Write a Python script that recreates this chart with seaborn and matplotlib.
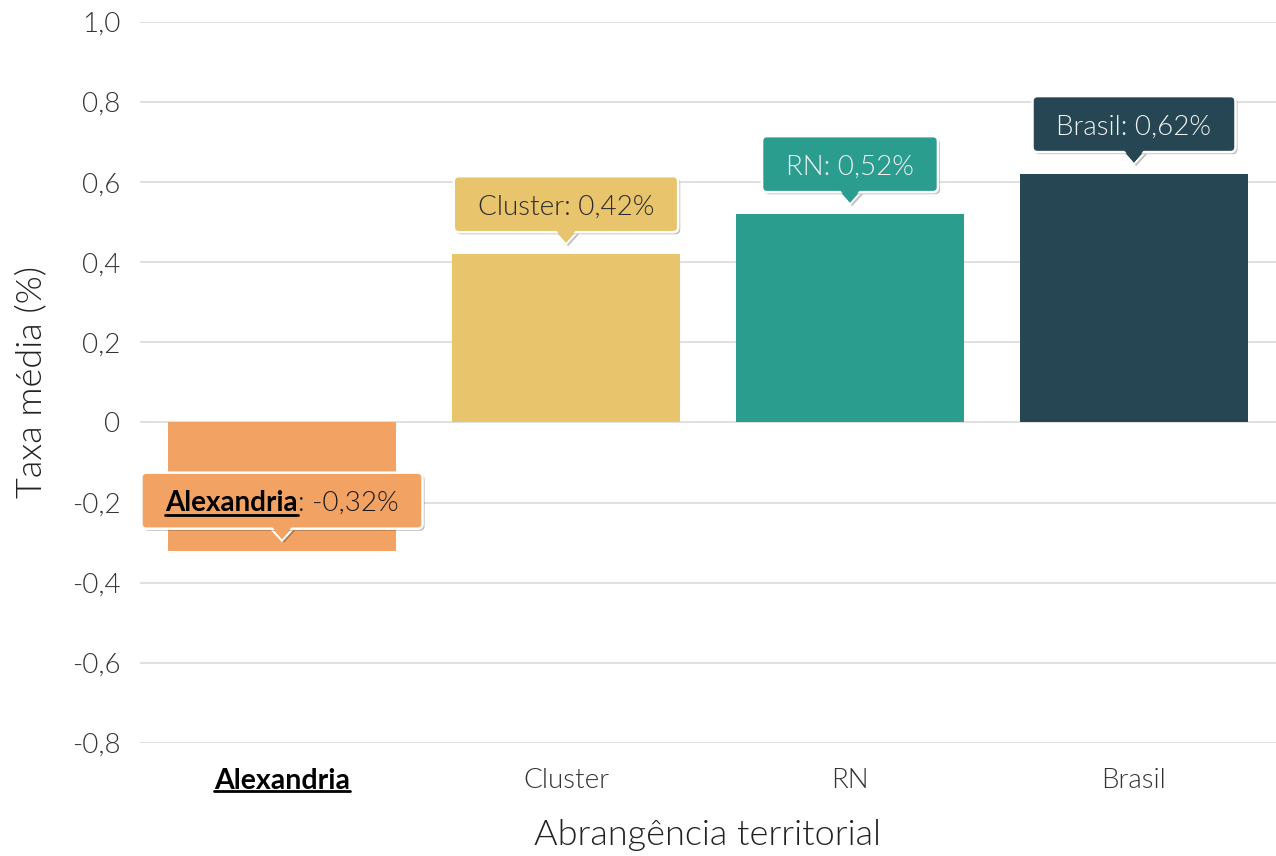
import matplotlib
matplotlib.use("Agg")
import pandas as pd
import matplotlib.pyplot as plt
import matplotlib.patheffects as pe
import seaborn as sns
from matplotlib.patches import FancyBboxPatch, Polygon
from matplotlib.lines import Line2D
from matplotlib.transforms import IdentityTransform

# data
regioes = ["Alexandria", "Cluster", "RN", "Brasil"]
taxas = [-0.32, 0.42, 0.52, 0.62]
rotulos = ["-0,32%", "0,42%", "0,52%", "0,62%"]
cores = ["#F2A363", "#E8C46D", "#2A9D8F", "#264653"]
cor_texto = ["#1a1a1a", "#2b2b2b", "#f2f2f2", "#f2f2f2"]
yticks = [-0.8, -0.6, -0.4, -0.2, 0, 0.2, 0.4, 0.6, 0.8, 1.0]
ytick_labels = ["-0,8", "-0,6", "-0,4", "-0,2", "0", "0,2", "0,4", "0,6", "0,8", "1,0"]

LEVE = 300  # Lato Light
FS = 20

sns.set_theme(style="white")
plt.rcParams["font.family"] = ["Lato", "DejaVu Sans"]

fig = plt.figure(figsize=(12.76, 8.56), dpi=100)
ax = fig.add_axes([0.1097, 0.132, 0.8903, 0.8425])

df = pd.DataFrame({"regiao": regioes, "taxa": taxas})
sns.barplot(data=df, x="regiao", y="taxa", hue="regiao", palette=cores,
            legend=False, width=0.8, saturation=1, ax=ax, zorder=2,
            linewidth=0)

ax.set_ylim(-0.8, 1.0)
ax.set_xlim(-0.5, 3.5)
ax.set_yticks(yticks)
ax.set_yticklabels(ytick_labels)
for y in yticks:
    ax.axhline(y, color="#DDDDDD", lw=1.3, zorder=0)
sns.despine(ax=ax, left=True, bottom=True)
ax.tick_params(axis="both", length=0, labelsize=FS, labelcolor="#333333")
ax.tick_params(axis="y", pad=14)
ax.tick_params(axis="x", pad=18)
for t in ax.get_yticklabels() + ax.get_xticklabels():
    t.set_fontweight(LEVE)
xt = ax.get_xticklabels()
xt[0].set_fontweight("bold")
xt[0].set_color("black")
xt[0].set_fontsize(20.5)

ax.set_xlabel("Abrangência territorial", fontsize=26, fontweight=LEVE,
              color="#222222", labelpad=18)
ax.set_ylabel("Taxa média (%)", fontsize=26, fontweight=LEVE,
              color="#222222", labelpad=18)

fig.canvas.draw()
renderer = fig.canvas.get_renderer()
ident = IdentityTransform()
sombra = [pe.SimplePatchShadow(offset=(1.5, -1.5), shadow_rgbFace="black", alpha=0.25), pe.Normal()]

# underline under the bold tick label
bb = xt[0].get_window_extent(renderer)
fig.add_artist(Line2D([bb.x0, bb.x1], [bb.y0 + 3, bb.y0 + 3], color="black",
                      lw=2, transform=ident))

# tooltips
for i, (reg, v, rot) in enumerate(zip(regioes, taxas, rotulos)):
    px, py = ax.transData.transform((i, v))
    tip = py + 10
    box_bottom = tip + 12
    box_h = 56
    cy = box_bottom + box_h / 2
    base = cy - 10
    if i == 0:
        t1 = ax.text(0, base, reg, transform=ident, ha="left", va="baseline",
                     fontsize=FS, fontweight="bold", color="black", zorder=6)
        t2 = ax.text(0, base, ": " + rot, transform=ident, ha="left", va="baseline",
                     fontsize=FS, fontweight=LEVE, color=cor_texto[i], zorder=6)
        w1 = t1.get_window_extent(renderer).width
        w2 = t2.get_window_extent(renderer).width
        left = px - (w1 + w2) / 2
        t1.set_x(left)
        t2.set_x(left + w1)
        ax.add_line(Line2D([left, left + w1], [base - 4, base - 4], color="black",
                           lw=2, transform=ident, zorder=6))
        w = w1 + w2
    else:
        t = ax.text(px, base, f"{reg}: {rot}", transform=ident, ha="center",
                    va="baseline", fontsize=FS, fontweight=LEVE,
                    color=cor_texto[i], zorder=6)
        w = t.get_window_extent(renderer).width
    box_w = w + 48
    tri = Polygon([(px - 11, box_bottom), (px + 11, box_bottom), (px, tip)],
                  closed=True, fc=cores[i], ec="white", lw=1.5,
                  transform=ident, zorder=4, clip_on=False)
    tri.set_path_effects(sombra)
    ax.add_patch(tri)
    box = FancyBboxPatch((px - box_w / 2, box_bottom), box_w, box_h,
                         boxstyle="round,pad=0,rounding_size=5",
                         fc=cores[i], ec="white", lw=1.8, transform=ident,
                         zorder=5, clip_on=False)
    box.set_path_effects(sombra)
    ax.add_patch(box)
    cover = Polygon([(px - 10, box_bottom + 2), (px + 10, box_bottom + 2), (px, tip + 1.5)],
                    closed=True, fc=cores[i], ec="none", transform=ident,
                    zorder=5.5, clip_on=False)
    ax.add_patch(cover)

fig.savefig("out.png", dpi=100)
